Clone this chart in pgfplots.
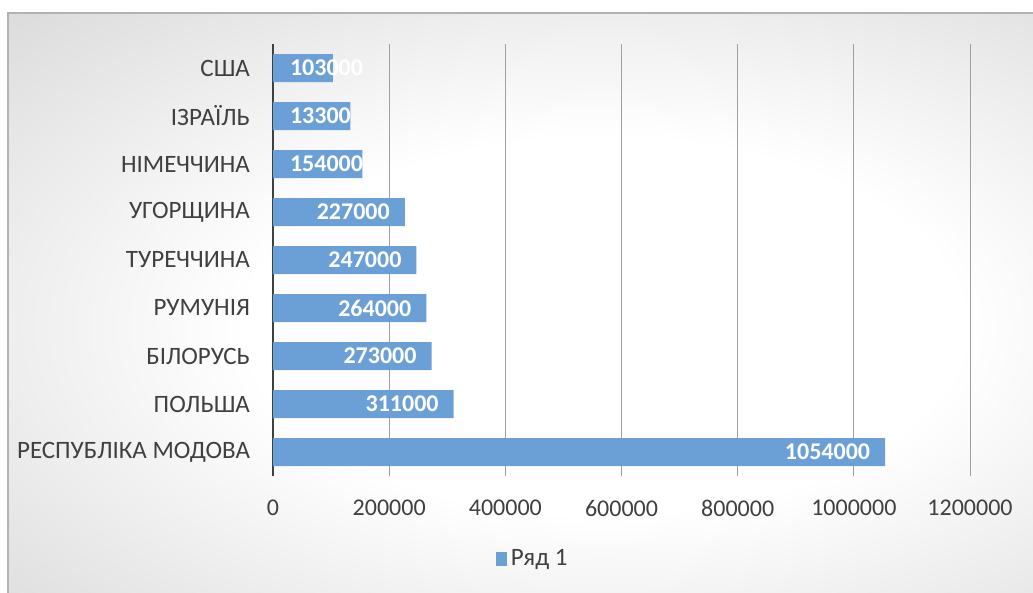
\documentclass[border=0pt]{standalone}
\usepackage{fontspec}
\setmainfont{Carlito}
\usepackage{pgfplots}
\pgfplotsset{compat=1.18}
\definecolor{barblue}{RGB}{106,160,214}
\definecolor{txt}{RGB}{64,64,64}
\definecolor{gridc}{RGB}{160,160,160}
\pgfdeclareradialshading{bgshade}{\pgfpoint{0bp}{0bp}}{color(0bp)=(white); color(15bp)=(white); color(50bp)=(white!76!black); color(75bp)=(white!70!black)}
\begin{document}
\begin{tikzpicture}
\useasboundingbox (0,0) rectangle (516.5pt,-296.5pt);
\begin{scope}
\clip (0,0) rectangle (516.5pt,-296.5pt);
\shade[shading=bgshade] (4pt,-6.5pt) rectangle (600pt,-320pt);
\draw[gray!60, line width=0.6pt] (4pt,-320pt) -- (4pt,-6.5pt) -- (600pt,-6.5pt);
\end{scope}
\begin{axis}[
  anchor=south west, at={(136.5pt,-238pt)},
  scale only axis, width=348.5pt, height=216pt,
  xmin=0, xmax=1200000, ymin=-0.5, ymax=8.5,
  xtick={0,200000,400000,600000,800000,1000000,1200000},
  scaled x ticks=false,
  /pgf/number format/assume math mode=true,
  x tick label style={/pgf/number format/fixed, /pgf/number format/1000 sep={}, yshift=-8.5pt, font=\fontsize{12}{13}\selectfont},
  ytick={0,1,2,3,4,5,6,7,8},
  yticklabels={РЕСПУБЛІКА МОДОВА, ПОЛЬША, БІЛОРУСЬ, РУМУНІЯ, ТУРЕЧЧИНА, УГОРЩИНА, НІМЕЧЧИНА, ІЗРАЇЛЬ, США},
  y tick label style={xshift=-8pt, font=\fontsize{12.5}{14}\selectfont},
  tick label style={text=txt},
  major tick length=0pt,
  xmajorgrids, major grid style={draw=gridc, line width=0.5pt},
  separate axis lines,
  axis x line*=bottom, axis y line*=left,
  x axis line style={draw=none},
  y axis line style={draw=txt, line width=1.2pt, -},
  legend style={at={(0.374,-0.192)}, anchor=center, draw=none, fill=none,
    font=\fontsize{12.5}{13}\selectfont, text=txt},
  legend image code/.code={\fill[barblue] (0pt,-3.5pt) rectangle (5.5pt,3.5pt);},
  clip=false,
]
\addplot[xbar, bar width=14pt, fill=barblue, draw=none] coordinates {
 (1054000,0) (311000,1) (273000,2) (264000,3) (247000,4) (227000,5) (154000,6) (133000,7) (103000,8)};
\addlegendentry{Ряд 1}
\addplot[forget plot, only marks, mark=*, mark size=0pt, mark options={draw=none, fill=none},
  point meta=explicit symbolic, nodes near coords,
  every node near coord/.append style={anchor=east, xshift=-4pt, text=white, font=\fontsize{12}{13}\selectfont\bfseries}]
  table[meta=lab] {
x y lab
1054000 0 1054000
311000 1 311000
273000 2 273000
264000 3 264000
247000 4 247000
227000 5 227000
};
\addplot[forget plot, only marks, mark=*, mark size=0pt, mark options={draw=none, fill=none},
  point meta=explicit symbolic, nodes near coords,
  every node near coord/.append style={anchor=west, xshift=5pt, text=white, font=\fontsize{12}{13}\selectfont\bfseries}]
  table[meta=lab] {
x y lab
0 6 154000
0 7 13300
0 8 103000
};
\end{axis}
\end{tikzpicture}
\end{document}
